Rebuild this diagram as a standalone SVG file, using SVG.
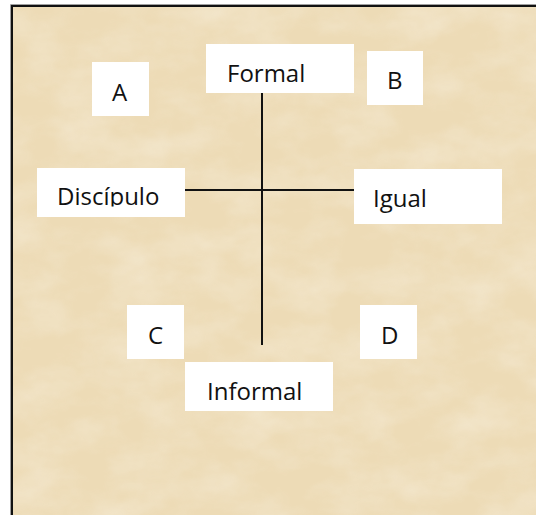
<svg xmlns="http://www.w3.org/2000/svg" width="536" height="515" viewBox="0 0 536 515">
  <defs>
    <filter id="parch" x="0" y="0" width="100%" height="100%">
      <feTurbulence type="fractalNoise" baseFrequency="0.018 0.03" numOctaves="4" seed="7" result="n"/>
      <feColorMatrix in="n" type="matrix" values="0 0 0 0 0.93  0 0 0 0 0.86  0 0 0 0 0.72  0 0 0 -1.6 1.05" result="c"/>
      <feComposite in="c" in2="SourceGraphic" operator="in"/>
    </filter>
    <clipPath id="clipDisc"><rect x="37" y="168" width="148" height="38.5"/></clipPath>
    <style>
      .box { fill: #ffffff; }
      .lbl { font-family: "Open Sans", "Liberation Sans", sans-serif; font-size: 24px; fill: #111111; }
      .conn { stroke: #111111; stroke-width: 2; fill: none; }
    </style>
  </defs>
  <rect x="0" y="0" width="536" height="515" fill="#ffffff"/>
  <rect x="12" y="7" width="600" height="600" fill="#EDDBB6"/>
  <rect x="12" y="7" width="600" height="600" fill="#C9A877" filter="url(#parch)" opacity="0.55"/>
  <path d="M11.5 560 V5.5 H600" fill="none" stroke="#a0a0a0" stroke-width="1" transform="translate(-1,-1)"/>
  <path d="M12 560 V6 H600" fill="none" stroke="#111111" stroke-width="2"/>

  <g id="connectors">
    <line class="conn" x1="262" y1="93" x2="262" y2="345"/>
    <line class="conn" x1="185" y1="190" x2="354" y2="190"/>
  </g>

  <g id="node-formal">
    <rect class="box" x="206" y="44" width="148" height="49"/>
    <text class="lbl" x="227" y="82">Formal</text>
  </g>
  <g id="node-a">
    <rect class="box" x="92" y="62" width="57" height="54"/>
    <text class="lbl" x="112" y="101">A</text>
  </g>
  <g id="node-b">
    <rect class="box" x="367" y="51" width="56" height="54"/>
    <text class="lbl" x="387" y="89">B</text>
  </g>
  <g id="node-discipulo">
    <rect class="box" x="37" y="168" width="148" height="49"/>
    <text class="lbl" x="57" y="205" clip-path="url(#clipDisc)">Discípulo</text>
  </g>
  <g id="node-igual">
    <rect class="box" x="354" y="169" width="148" height="55"/>
    <text class="lbl" x="373" y="207">Igual</text>
  </g>
  <g id="node-c">
    <rect class="box" x="127" y="305" width="57" height="54"/>
    <text class="lbl" x="148" y="344">C</text>
  </g>
  <g id="node-d">
    <rect class="box" x="360" y="305" width="57" height="54"/>
    <text class="lbl" x="381" y="344">D</text>
  </g>
  <g id="node-informal">
    <rect class="box" x="185" y="362" width="148" height="49"/>
    <text class="lbl" x="207" y="400">Informal</text>
  </g>
</svg>
